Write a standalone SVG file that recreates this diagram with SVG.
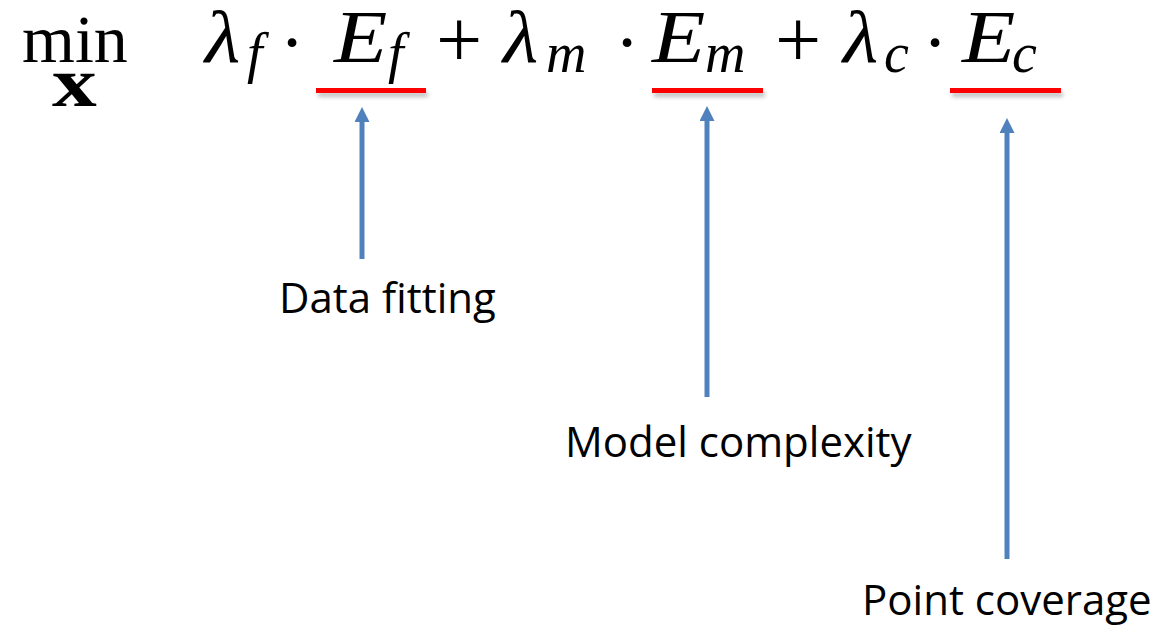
<svg xmlns="http://www.w3.org/2000/svg" width="1155" height="627" viewBox="0 0 1155 627">
  <style>
    .m { font-family: "Liberation Serif", "DejaVu Serif", serif; fill: #000; }
    .mi { font-family: "Liberation Serif", "DejaVu Serif", serif; font-style: italic; fill: #000; }
    .big { font-size: 74px; }
    .sub { font-size: 56px; }
    .op { font-size: 82px; }
    .lbl { font-family: "Open Sans", "Liberation Sans", sans-serif; font-size: 42px; fill: #000; }
    .under { fill: #ff0000; }
    .shadow { fill: #000; opacity: 0.25; }
    .arrow { stroke: #4f81bd; stroke-width: 5; fill: none; marker-end: url(#ah); }
  </style>
  <defs>
    <marker id="ah" viewBox="0 0 10 10" refX="0" refY="5" markerWidth="3" markerHeight="3" orient="auto" markerUnits="strokeWidth">
      <path d="M0,0 L10,5 L0,10 z" fill="#4f81bd"/>
    </marker>
    <filter id="blur" x="-10%" y="-100%" width="120%" height="300%">
      <feGaussianBlur stdDeviation="2"/>
    </filter>
  </defs>
  <rect width="1155" height="627" fill="#fff"/>

  <g id="formula">
    <text class="m" x="22" y="62" font-size="68">min</text>
    <text class="m" transform="translate(52,106) scale(1.28,1)" font-size="70" font-weight="bold">x</text>

    <text class="mi big" transform="translate(205,62) scale(1.1,1)">λ</text>
    <text class="mi sub" x="247" y="72">f</text>
    <text class="m big" x="292" y="67" text-anchor="middle">·</text>
    <text class="mi big" transform="translate(334,62) scale(1.18,1)">E</text>
    <text class="mi sub" x="388" y="72">f</text>
    <text class="m op" x="459" y="67" text-anchor="middle">+</text>

    <text class="mi big" transform="translate(503,62) scale(1.1,1)">λ</text>
    <text class="mi sub" x="546" y="72">m</text>
    <text class="m big" x="627" y="67" text-anchor="middle">·</text>
    <text class="mi big" transform="translate(652,62) scale(1.18,1)">E</text>
    <text class="mi sub" x="705" y="72">m</text>
    <text class="m op" x="798" y="67" text-anchor="middle">+</text>

    <text class="mi big" transform="translate(843,62) scale(1.1,1)">λ</text>
    <text class="mi sub" x="884" y="72">c</text>
    <text class="m big" x="935" y="67" text-anchor="middle">·</text>
    <text class="mi big" transform="translate(962,62) scale(1.18,1)">E</text>
    <text class="mi sub" x="1012" y="72">c</text>
  </g>

  <g id="underlines">
    <rect class="shadow" x="318" y="92" width="110" height="5" filter="url(#blur)"/>
    <rect class="under" x="316" y="88" width="110" height="5"/>
    <rect class="shadow" x="654" y="92" width="111" height="5" filter="url(#blur)"/>
    <rect class="under" x="652" y="88" width="111" height="5"/>
    <rect class="shadow" x="952" y="92" width="111" height="5" filter="url(#blur)"/>
    <rect class="under" x="950" y="88" width="111" height="5"/>
  </g>

  <g id="connectors">
    <line class="arrow" x1="362" y1="259" x2="362" y2="122"/>
    <line class="arrow" x1="707" y1="397" x2="707" y2="121"/>
    <line class="arrow" x1="1007" y1="559" x2="1007" y2="133"/>
  </g>

  <g id="data-fitting">
    <text class="lbl" x="279" y="313">Data fitting</text>
  </g>
  <g id="model-complexity">
    <text class="lbl" x="565" y="457">Model complexity</text>
  </g>
  <g id="point-coverage">
    <text class="lbl" x="862" y="615">Point coverage</text>
  </g>
</svg>
